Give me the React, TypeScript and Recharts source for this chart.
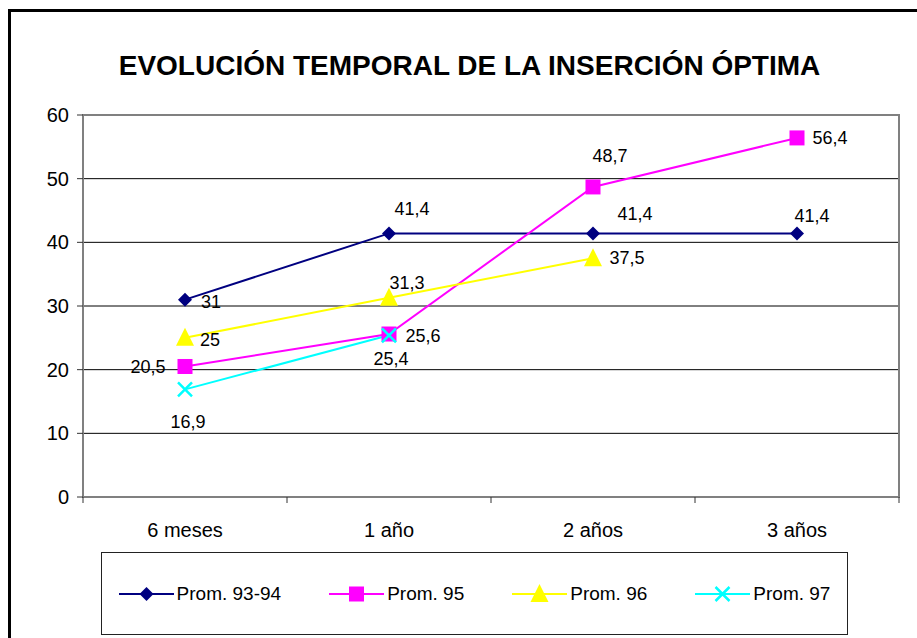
import React from 'react';
import { LineChart, Line, XAxis, YAxis, CartesianGrid, ReferenceArea, LabelList } from 'recharts';

const categories = ['6 meses', '1 año', '2 años', '3 años'];
const prom9394 = [31, 41.4, 41.4, 41.4];
const prom95 = [20.5, 25.6, 48.7, 56.4];
const prom96 = [25, 31.3, 37.5, null];
const prom97 = [16.9, 25.4, null, null];
const yTicks = [0, 10, 20, 30, 40, 50, 60];
const boundaryTicks = [0, 1, 2, 3, 4];
const seriesNames = ['Prom. 93-94', 'Prom. 95', 'Prom. 96', 'Prom. 97'];
const titleText = 'EVOLUCIÓN TEMPORAL DE LA INSERCIÓN ÓPTIMA';

// styling (not data)
const seriesStyle = [
  { key: 's0', color: '#000080', marker: 'diamond' },
  { key: 's1', color: '#FF00FF', marker: 'square' },
  { key: 's2', color: '#FFFF00', marker: 'triangle' },
  { key: 's3', color: '#00FFFF', marker: 'x' },
];
// label offsets (dx, dy) from point to label centre
const labelOffsets: number[][][] = [
  [[26, 2], [23, -24], [42, -19], [15, -17]],
  [[-37, 1], [34, 2], [17, -31], [33, 0]],
  [[25, 2], [18, -15], [34, 0]],
  [[3, 33], [2, 24]],
];

const data = categories.map((c, i) => ({
  cat: c,
  s0: prom9394[i],
  s1: prom95[i],
  s2: prom96[i],
  s3: prom97[i],
}));

const FONT = '"Liberation Sans", Arial, sans-serif';

function Marker({ kind, cx, cy, color }: { kind: string; cx: number; cy: number; color: string }) {
  if (kind === 'diamond') {
    return <polygon points={`${cx},${cy - 7} ${cx + 7},${cy} ${cx},${cy + 7} ${cx - 7},${cy}`} fill={color} />;
  }
  if (kind === 'square') {
    return <rect x={cx - 7.5} y={cy - 7.5} width={15} height={15} fill={color} />;
  }
  if (kind === 'triangle') {
    return <polygon points={`${cx},${cy - 10} ${cx + 9},${cy + 8} ${cx - 9},${cy + 8}`} fill={color} />;
  }
  return (
    <path
      d={`M${cx - 7},${cy - 7}L${cx + 7},${cy + 7}M${cx + 7},${cy - 7}L${cx - 7},${cy + 7}`}
      stroke={color}
      strokeWidth={2.5}
      fill="none"
    />
  );
}

const fmt = (v: number) => String(v).replace('.', ',');

export default function App() {
  return (
    <div style={{ position: 'absolute', left: 0, top: 0, width: 917, height: 638, background: '#fff', fontFamily: FONT, overflow: 'hidden' }}>
      <div
        style={{
          position: 'absolute',
          left: 8,
          top: 9,
          width: 920,
          height: 640,
          borderLeft: '3px solid #000',
          borderTop: '3px solid #000',
        }}
      />
      <div
        style={{
          position: 'absolute',
          left: 469.5,
          top: 66,
          transform: 'translate(-50%, -50%)',
          whiteSpace: 'nowrap',
          fontSize: 28,
          fontWeight: 'bold',
          lineHeight: 1,
          color: '#000',
        }}
      >
        {titleText}
      </div>
      <LineChart
        width={917}
        height={638}
        data={data}
        margin={{ top: 115, right: 18, left: 0, bottom: 91 }}
        style={{ position: 'absolute', left: 0, top: 0 }}
      >
        <XAxis
          xAxisId="b"
          type="number"
          dataKey={() => 0}
          domain={[0, 4]}
          ticks={boundaryTicks}
          tickFormatter={() => ''}
          height={10}
          tickSize={6}
          axisLine={{ stroke: '#808080', strokeWidth: 2 }}
          tickLine={{ stroke: '#333' }}
          allowDataOverflow
        />
        <XAxis
          xAxisId="cat"
          dataKey="cat"
          height={40}
          padding={{ left: 102, right: 102 }}
          axisLine={false}
          tickLine={false}
          tickSize={0}
          tickMargin={16}
          interval={0}
          tick={{ fill: '#000', fontSize: 20, fontFamily: FONT }}
        />
        <YAxis
          domain={[0, 60]}
          ticks={yTicks}
          width={83}
          tickSize={6}
          tickMargin={8}
          axisLine={{ stroke: '#808080', strokeWidth: 2 }}
          tickLine={{ stroke: '#333' }}
          tick={{ fill: '#000', fontSize: 20, fontFamily: FONT }}
          interval={0}
        />
        <CartesianGrid xAxisId="b" horizontal vertical={false} stroke="#000" strokeWidth={1} />
        <ReferenceArea
          xAxisId="b"
          x1={0}
          x2={4}
          y1={0}
          y2={60}
          fill="none"
          fillOpacity={0}
          stroke="#808080"
          strokeWidth={2}
        />
        {seriesStyle.map((s, si) => (
          <Line
            key={s.key}
            xAxisId="cat"
            dataKey={s.key}
            name={seriesNames[si]}
            stroke={s.color}
            strokeWidth={2}
            isAnimationActive={false}
            connectNulls={false}
            dot={(p: any) =>
              p.cy == null || p.value == null ? (
                <g key={`d${si}-${p.index}`} />
              ) : (
                <Marker key={`d${si}-${p.index}`} kind={s.marker} cx={p.cx} cy={p.cy} color={s.color} />
              )
            }
            activeDot={false}
          >
            <LabelList
              dataKey={s.key}
              content={(p: any) => {
                if (p.value == null || p.y == null) return null;
                const off = labelOffsets[si][p.index] || [20, 0];
                return (
                  <text
                    x={p.x + off[0]}
                    y={p.y + off[1]}
                    textAnchor="middle"
                    dominantBaseline="central"
                    fontSize={18}
                    fontFamily={FONT}
                    fill="#000"
                  >
                    {fmt(p.value)}
                  </text>
                );
              }}
            />
          </Line>
        ))}
      </LineChart>
      <div
        style={{
          position: 'absolute',
          left: 101,
          top: 552,
          width: 747,
          height: 83,
          boxSizing: 'border-box',
          border: '1.5px solid #222',
          display: 'flex',
          alignItems: 'center',
          justifyContent: 'center',
          gap: 48,
          fontSize: 19,
          color: '#000',
        }}
      >
        {seriesStyle.map((s, si) => (
          <div key={s.key} style={{ display: 'flex', alignItems: 'center' }}>
            <svg width={55} height={22}>
              <line x1={0} y1={11} x2={55} y2={11} stroke={s.color} strokeWidth={2} />
              <Marker kind={s.marker} cx={27.5} cy={11} color={s.color} />
            </svg>
            <span style={{ marginLeft: 3, whiteSpace: 'nowrap' }}>{seriesNames[si]}</span>
          </div>
        ))}
      </div>
    </div>
  );
}
